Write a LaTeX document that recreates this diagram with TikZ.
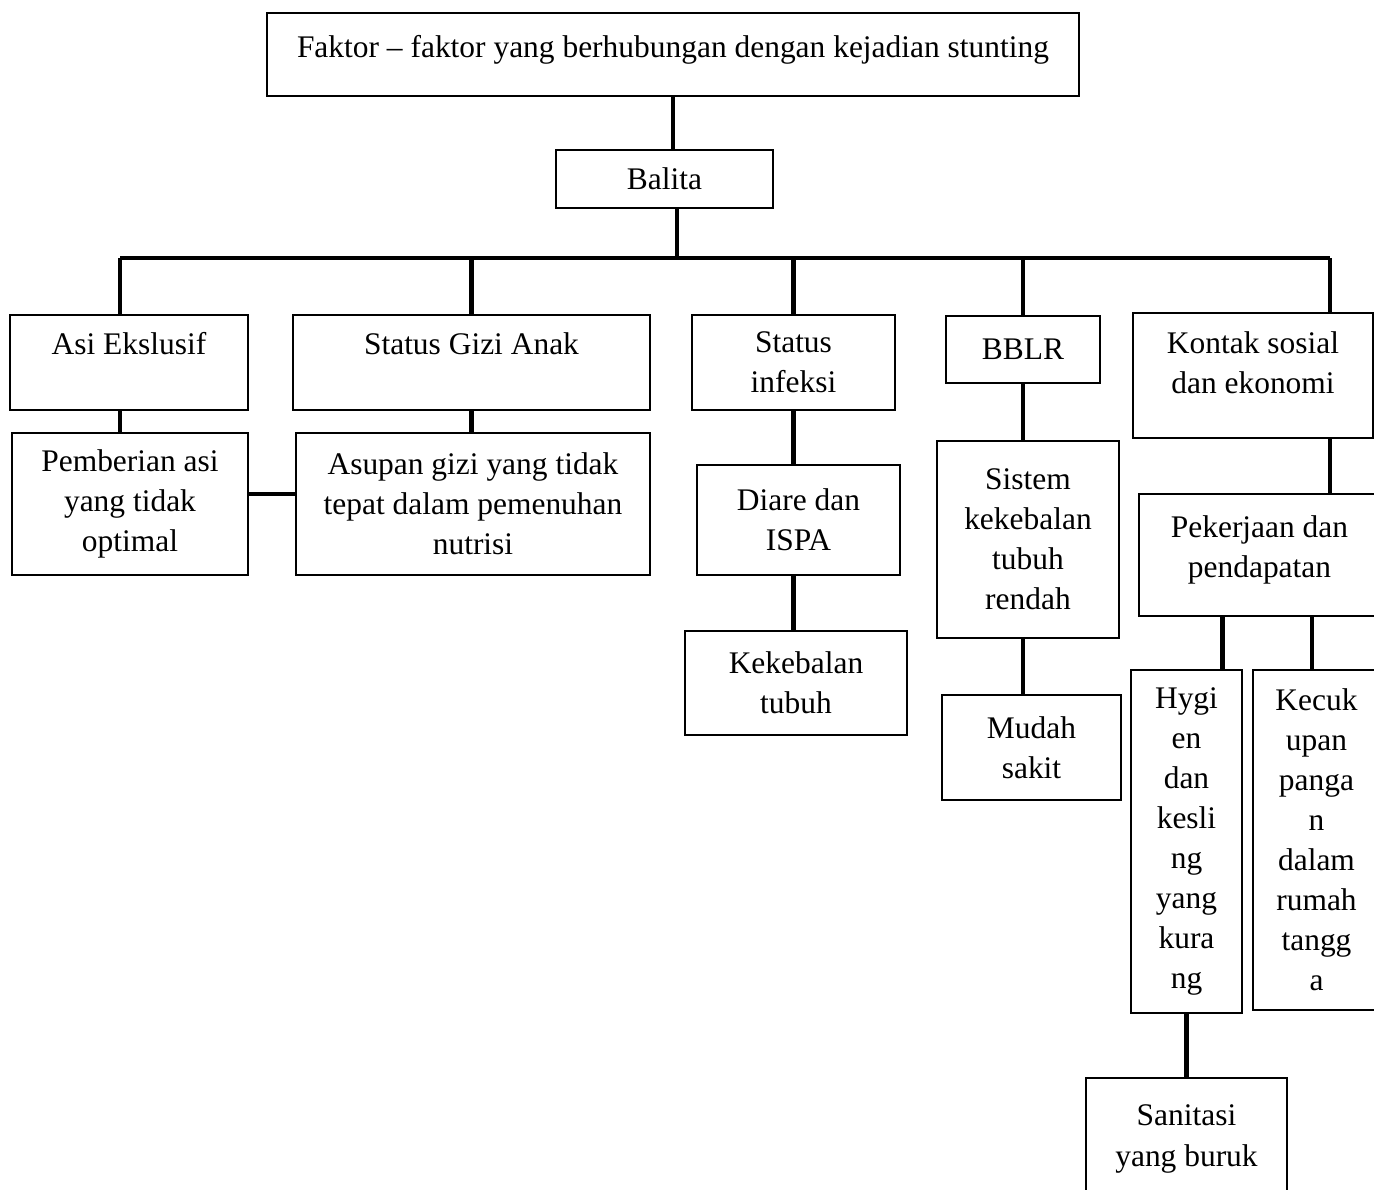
\documentclass[tikz,border=0pt]{standalone}
\usepackage{fontspec}
\setmainfont{Liberation Serif}

\begin{document}
\begin{tikzpicture}[x=0.02cm,y=-0.02cm]
    \tikzset{
        faktorbox/.style={shape=rectangle,draw,line width=1.1pt,align=center,
            font=\fontsize{17.9}{22.8}\selectfont},
        conn/.style={line width=2.6pt}
    }
    \path[use as bounding box,clip] (0,0) rectangle (1374,1190);
    \node[faktorbox,minimum width=16.24cm,minimum height=1.66cm,text depth=0.34cm] (top) at (673,54.5) {Faktor -- faktor yang berhubungan dengan kejadian stunting};
    \node[faktorbox,minimum width=4.34cm,minimum height=1.16cm] (balita) at (664.5,179) {Balita};
    \node[faktorbox,minimum width=4.76cm,minimum height=1.9cm,text depth=0.76cm] (asi) at (129,362.5) {Asi Ekslusif};
    \node[faktorbox,minimum width=7.14cm,minimum height=1.9cm,text depth=0.76cm] (gizi) at (471.5,362.5) {Status Gizi Anak};
    \node[faktorbox,minimum width=4.06cm,minimum height=1.9cm] (infeksi) at (793.5,362.5) {Status\\infeksi};
    \node[faktorbox,minimum width=3.08cm,minimum height=1.34cm] (bblr) at (1023,349.5) {BBLR};
    \node[faktorbox,minimum width=4.8cm,minimum height=2.5cm,text depth=0.5cm] (kontak) at (1253,375.5) {Kontak sosial\\dan ekonomi};
    \node[faktorbox,minimum width=4.72cm,minimum height=2.84cm] (pemberian) at (130,504) {Pemberian asi\\yang tidak\\optimal};
    \node[faktorbox,minimum width=7.08cm,minimum height=2.84cm] (asupan) at (473,504) {Asupan gizi yang tidak\\tepat dalam pemenuhan\\nutrisi};
    \node[faktorbox,minimum width=4.06cm,minimum height=2.2cm] (diare) at (798.5,520) {Diare dan\\ISPA};
    \node[faktorbox,minimum width=4.44cm,minimum height=2.08cm] (kekebalan) at (796,683) {Kekebalan\\tubuh};
    \node[faktorbox,minimum width=3.64cm,minimum height=3.94cm] (sistem) at (1028,539.5) {Sistem\\kekebalan\\tubuh\\rendah};
    \node[faktorbox,minimum width=3.58cm,minimum height=2.1cm] (mudah) at (1031.5,747.5) {Mudah\\sakit};
    \node[faktorbox,minimum width=4.82cm,minimum height=2.44cm,text depth=0.34cm] (pekerjaan) at (1259.5,555) {Pekerjaan dan\\pendapatan};
    \node[faktorbox,minimum width=2.22cm,minimum height=6.86cm] (hygiene) at (1186.5,841.5) {Hygi\\en\\dan\\kesli\\ng\\yang\\kura\\ng};
    \node[faktorbox,minimum width=2.54cm,minimum height=6.8cm] (kecukupan) at (1316.5,840) {Kecuk\\upan\\panga\\n\\dalam\\rumah\\tangg\\a};
    \node[faktorbox,minimum width=4.02cm,minimum height=2.44cm] (sanitasi) at (1186.5,1139) {Sanitasi\\yang buruk};
    % bus under Balita
    \coordinate (bus) at (677,258);
    \coordinate (busL) at (120,258);
    \coordinate (busR) at (1330,258);
    \draw[conn] (top.south) -- (top.south |- balita.north);
    \draw[conn] (bus |- balita.south) -- (bus);
    \draw[conn] (busL) -- (busR);
    \draw[conn] (busL) -- (busL |- asi.north);
    \draw[conn] (gizi.north |- bus) -- (gizi.north);
    \draw[conn] (infeksi.north |- bus) -- (infeksi.north);
    \draw[conn] (bblr.north |- bus) -- (bblr.north);
    \draw[conn] (busR) -- (busR |- kontak.north);
    % second level
    \draw[conn] (busL |- asi.south) -- (busL |- pemberian.north);
    \draw[conn] (gizi.south) -- (gizi.south |- asupan.north);
    \draw[conn] ([yshift=0.2cm]pemberian.east) -- ([yshift=0.2cm]pemberian.east -| asupan.west);
    \draw[conn] (infeksi.south) -- (infeksi.south |- diare.north);
    \draw[conn] (infeksi.south |- diare.south) -- (infeksi.south |- kekebalan.north);
    \draw[conn] (bblr.south) -- (bblr.south |- sistem.north);
    \draw[conn] (bblr.south |- sistem.south) -- (bblr.south |- mudah.north);
    \draw[conn] (busR |- kontak.south) -- (busR |- pekerjaan.north);
    \draw[conn] ([xshift=0.72cm]hygiene.north |- pekerjaan.south) -- ([xshift=0.72cm]hygiene.north);
    \draw[conn] ([xshift=-0.09cm]kecukupan.north |- pekerjaan.south) -- ([xshift=-0.09cm]kecukupan.north);
    \draw[conn] (hygiene.south) -- (sanitasi.north);
\end{tikzpicture}
\end{document}
